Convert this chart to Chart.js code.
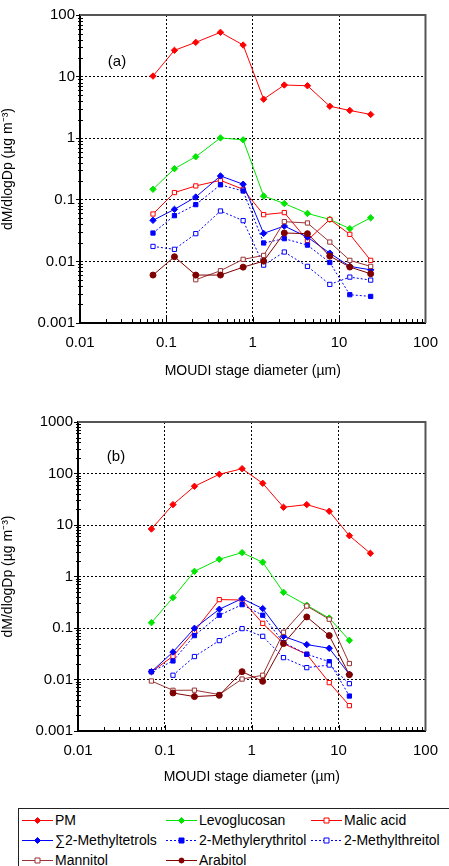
<!DOCTYPE html>
<html>
<head>
<meta charset="utf-8">
<script src="https://cdn.jsdelivr.net/npm/chart.js@4/dist/chart.umd.min.js"></script>
<style>
  body { margin: 0; background: #fff; width: 449px; height: 866px; overflow: hidden; position: relative;
         font-family: 'Liberation Sans', Arial, sans-serif; }
  #wrapA { position: absolute; left: 0; top: 0; }
  #wrapB { position: absolute; left: 0; top: 385px; }
  #legend { position: absolute; left: 18px; top: 808px; width: 470px; height: 70px; border: 1px solid #222;
            font-size: 14px; color: #000; }
  .item { position: absolute; height: 20px; line-height: 20px; white-space: nowrap; }
  .item canvas { position: absolute; left: 0; top: 5px; }
  .item span { position: absolute; left: 33px; top: 0; }
</style>
</head>
<body>
<div id="wrapA"><canvas id="chartA" width="449" height="385"></canvas></div>
<div id="wrapB"><canvas id="chartB" width="449" height="406"></canvas></div>
<div id="legend"></div>
<script>
// stage diameters (um)
const diam = [0.07, 0.124, 0.219, 0.423, 0.774, 1.337, 2.32, 4.3, 7.8, 13.3, 23.2];
const xTicks = [0.01, 0.1, 1, 10, 100];
const yTicksA = [0.001, 0.01, 0.1, 1, 10, 100];
const yTicksB = [0.001, 0.01, 0.1, 1, 10, 100, 1000];
const names = ['PM', 'Levoglucosan', 'Malic acid', '\u22112-Methyltetrols', '2-Methylerythritol',
               '2-Methylthreitol', 'Mannitol', 'Arabitol'];

// panel (a)
const pmA    = [10.2, 26.7, 36, 52.3, 32.5, 4.3, 7.3, 7.1, 3.3, 2.82, 2.43];
const levoA  = [0.148, 0.32, 0.50, 1.01, 0.94, 0.115, 0.087, 0.060, 0.048, 0.034, 0.051];
const malicA = [0.0588, 0.131, 0.168, 0.207, 0.148, 0.0574, 0.062, 0.0219, 0.048, 0.0275, 0.0104];
const mtA    = [0.0464, 0.070, 0.111, 0.244, 0.179, 0.0285, 0.0375, 0.0248, 0.0136, 0.0083, 0.0073];
const meA    = [0.0289, 0.0553, 0.0835, 0.175, 0.139, 0.0199, 0.0234, 0.0184, 0.0096, 0.00288, 0.0027];
const mthA   = [0.0175, 0.0157, 0.0282, 0.0658, 0.0459, 0.0087, 0.0142, 0.0083, 0.00423, 0.00556, 0.00497];
const mannA  = [null, null, 0.00504, 0.00706, 0.0108, 0.0125, 0.0442, 0.042, 0.0206, 0.0104, 0.0083];
const arabA  = [0.006, 0.0119, 0.006, 0.006, 0.00807, 0.0101, 0.0289, 0.0282, 0.0122, 0.0081, 0.0063];

// panel (b)
const pmB    = [8.36, 24.9, 56.4, 96.4, 124, 64.5, 22.1, 24.9, 18.5, 6.2, 2.82];
const levoB  = [0.127, 0.389, 1.26, 2.16, 2.91, 1.89, 0.493, 0.276, 0.156, 0.0577];
const malicB = [0.0142, 0.0282, 0.0863, 0.356, 0.35, 0.123, 0.0498, 0.0309, 0.0087, 0.00311];
const mtB    = [0.0142, 0.0342, 0.0986, 0.231, 0.372, 0.238, 0.069, 0.0476, 0.0404, 0.0126];
const meB    = [0.0142, 0.0229, 0.0712, 0.177, 0.284, 0.177, 0.052, 0.031, 0.0222, 0.00478];
const mthB   = [null, 0.0121, 0.0279, 0.0569, 0.0973, 0.069, 0.0266, 0.017, 0.0191, 0.0083];
const mannB  = [0.00935, 0.00617, 0.0062, 0.0051, 0.0102, 0.0121, 0.0826, 0.267, 0.148, 0.0204];
const arabB  = [null, 0.00547, 0.00466, 0.00493, 0.0142, 0.00922, 0.0498, 0.164, 0.0712, 0.0124];

// look of each series, same order as names
const looks = [
  { color: '#ff0000', shape: 'rectRot', filled: true,  dash: [] },
  { color: '#00e600', shape: 'rectRot', filled: true,  dash: [] },
  { color: '#ff0000', shape: 'rect',    filled: false, dash: [] },
  { color: '#0000ff', shape: 'rectRot', filled: true,  dash: [] },
  { color: '#0000ff', shape: 'rect',    filled: true,  dash: [2, 2] },
  { color: '#0000ff', shape: 'rect',    filled: false, dash: [2, 2] },
  { color: '#993333', shape: 'rect',    filled: false, dash: [] },
  { color: '#800000', shape: 'circle',  filled: true,  dash: [] }
];

const FONT = "'Liberation Sans', Arial, sans-serif";

const axisDecor = {
  id: 'axisDecor',
  afterDraw(chart, args, opts) {
    const { ctx, chartArea: a, scales: { x, y } } = chart;
    ctx.save();
    ctx.strokeStyle = '#000';
    ctx.lineWidth = 1;
    ctx.beginPath();
    for (let i = 0; i < xTicks.length - 1; i++) {
      for (let k = 1; k < 10; k++) {
        const px = Math.round(x.getPixelForValue(xTicks[i] * k)) + 0.5;
        ctx.moveTo(px, a.bottom);
        ctx.lineTo(px, a.bottom - (k === 1 ? 6 : 4));
      }
    }
    const yt = opts.yTicks;
    for (let i = 0; i < yt.length - 1; i++) {
      for (let k = 2; k < 10; k++) {
        const py = Math.round(y.getPixelForValue(yt[i] * k)) + 0.5;
        ctx.moveTo(a.left - 2, py);
        ctx.lineTo(a.left + 3, py);
      }
    }
    ctx.stroke();
    // top and right frame
    ctx.strokeStyle = '#555';
    ctx.lineWidth = 2;
    ctx.beginPath();
    ctx.moveTo(a.left, a.top);
    ctx.lineTo(a.right, a.top);
    ctx.lineTo(a.right, a.bottom);
    ctx.stroke();
    // panel tag
    ctx.fillStyle = '#000';
    ctx.font = '15px ' + FONT;
    ctx.textAlign = 'center';
    ctx.textBaseline = 'middle';
    ctx.fillText(opts.tag, a.left + opts.dx, a.top + opts.dy);
    ctx.restore();
  }
};

function makeSets(series) {
  return series.map((vals, i) => {
    const lk = looks[i];
    return {
      label: names[i],
      data: vals.map((v, j) => ({ x: diam[j], y: v })),
      borderColor: lk.color,
      backgroundColor: lk.color,
      borderWidth: 1,
      borderDash: lk.dash,
      pointStyle: lk.shape,
      pointRadius: lk.shape === 'rectRot' ? 3.2 : 3,
      pointBorderWidth: 1,
      pointBorderColor: lk.color,
      pointBackgroundColor: lk.filled ? lk.color : '#fff',
      tension: 0,
      fill: false,
      spanGaps: false,
      order: 20 - i
    };
  });
}

function makeChart(id, series, yTicks, lay) {
  new Chart(document.getElementById(id), {
    type: 'line',
    data: { datasets: makeSets(series) },
    plugins: [axisDecor],
    options: {
      responsive: false,
      animation: false,
      layout: { padding: { left: 0, top: lay.top, right: lay.right, bottom: 0 } },
      plugins: {
        legend: { display: false },
        tooltip: { enabled: false },
        axisDecor: { yTicks: yTicks, tag: lay.tag, dx: lay.dx, dy: lay.dy }
      },
      scales: {
        x: {
          type: 'logarithmic',
          min: xTicks[0], max: xTicks[xTicks.length - 1],
          afterBuildTicks: s => { s.ticks = xTicks.map(v => ({ value: v })); },
          afterFit: s => { s.height = lay.xh; },
          ticks: { callback: v => String(v), color: '#000', font: { size: 15, family: FONT },
                   padding: 11, maxRotation: 0, autoSkip: false },
          grid: { color: '#000', lineWidth: 1, drawTicks: false },
          border: { color: '#000', width: 2, dash: [2, 2] },
          title: { display: true, text: 'MOUDI stage diameter (\u00b5m)', color: '#000',
                   font: { size: 14, family: FONT }, padding: { top: 0, bottom: 5 } }
        },
        y: {
          type: 'logarithmic',
          min: yTicks[0], max: yTicks[yTicks.length - 1],
          afterBuildTicks: s => { s.ticks = yTicks.map(v => ({ value: v })); },
          afterFit: s => { s.width = lay.yw; },
          ticks: { callback: v => String(v), color: '#000', font: { size: 15, family: FONT },
                   padding: 1, autoSkip: false },
          grid: { color: '#000', lineWidth: 1, drawTicks: true, tickLength: 4, tickColor: '#000' },
          border: { color: '#000', width: 2, dash: [2, 2] },
          title: { display: true, text: 'dM/dlogDp (\u00b5g m\u207b\u00b3)', color: '#000',
                   font: { size: 14, family: FONT }, padding: { top: 0, bottom: 10 } }
        }
      }
    }
  });
}

makeChart('chartA', [pmA, levoA, malicA, mtA, meA, mthA, mannA, arabA], yTicksA,
  { top: 15, right: 14, xh: 62, yw: 80, tag: '(a)', dx: 37, dy: 47 });
makeChart('chartB', [pmB, levoB, malicB, mtB, meB, mthB, mannB, arabB], yTicksB,
  { top: 37, right: 13, xh: 60, yw: 78, tag: '(b)', dx: 38, dy: 35 });

// legend, 3 columns
const legend = document.getElementById('legend');
const colX = [3, 147, 292];
names.forEach((n, i) => {
  const lk = looks[i];
  const div = document.createElement('div');
  div.className = 'item';
  div.style.left = colX[i % 3] + 'px';
  div.style.top = (1 + Math.floor(i / 3) * 20) + 'px';
  const c = document.createElement('canvas');
  c.width = 31; c.height = 10;
  const g = c.getContext('2d');
  g.strokeStyle = lk.color;
  g.lineWidth = 1;
  g.setLineDash(lk.dash);
  g.beginPath(); g.moveTo(0, 5.5); g.lineTo(31, 5.5); g.stroke();
  g.setLineDash([]);
  g.fillStyle = lk.filled ? lk.color : '#fff';
  g.beginPath();
  if (lk.shape === 'rect') g.rect(13, 3, 5, 5);
  else if (lk.shape === 'circle') g.arc(15.5, 5.5, 2.5, 0, Math.PI * 2);
  else { g.moveTo(15.5, 2.5); g.lineTo(18.5, 5.5); g.lineTo(15.5, 8.5); g.lineTo(12.5, 5.5); g.closePath(); }
  g.fill(); g.stroke();
  const s = document.createElement('span');
  s.textContent = n;
  div.appendChild(c);
  div.appendChild(s);
  legend.appendChild(div);
});
</script>
</body>
</html>
